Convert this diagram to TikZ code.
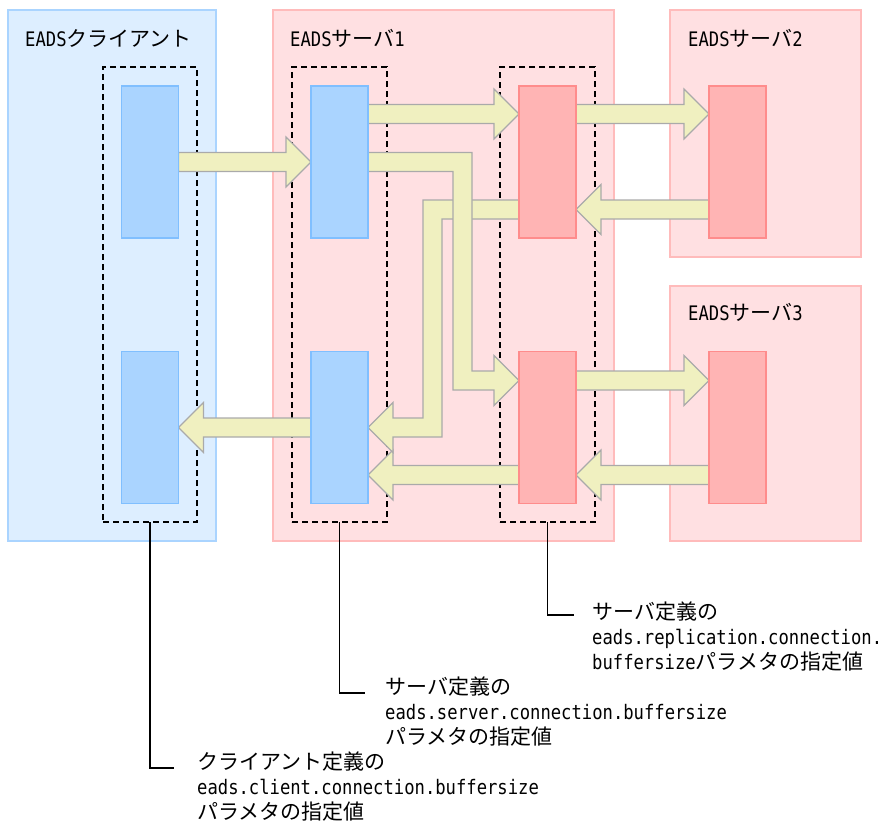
\documentclass[tikz,border=0pt]{standalone}
\usepackage{fontspec}
\setmainfont{Noto Sans CJK JP}
\newfontfamily\monofam[FakeStretch=0.86]{DejaVu Sans Mono}
\usetikzlibrary{calc}
\definecolor{clbg}{HTML}{DDEEFF}
\definecolor{clbd}{HTML}{AAD4FF}
\definecolor{blfill}{HTML}{AAD4FF}
\definecolor{blbd}{HTML}{80BFFF}
\definecolor{svbg}{HTML}{FFE0E2}
\definecolor{svbd}{HTML}{FFBBBB}
\definecolor{rdfill}{HTML}{FFB4B4}
\definecolor{rdbd}{HTML}{FF8C8C}
\definecolor{arfill}{HTML}{F0F0C0}
\definecolor{arbd}{HTML}{AAAAAA}
\newcommand\jpfs{\fontsize{21}{25}\selectfont}
\newcommand\mofs{\monofam\fontsize{20}{25}\selectfont}
\def\shw{9.5pt}
\def\hdw{25pt}
\def\hdl{25pt}
\newcommand\arrR[2]{\draw[fat] let \p1=#1, \p2=#2 in
  (\x1,\y1+\shw) -- (\x2-\hdl,\y1+\shw) -- (\x2-\hdl,\y1+\hdw) -- (\x2,\y1)
  -- (\x2-\hdl,\y1-\hdw) -- (\x2-\hdl,\y1-\shw) -- (\x1,\y1-\shw) -- cycle;}
\newcommand\arrL[2]{\draw[fat] let \p1=#1, \p2=#2 in
  (\x1,\y1+\shw) -- (\x2+\hdl,\y1+\shw) -- (\x2+\hdl,\y1+\hdw) -- (\x2,\y1)
  -- (\x2+\hdl,\y1-\hdw) -- (\x2+\hdl,\y1-\shw) -- (\x1,\y1-\shw) -- cycle;}
\tikzset{
  box/.style={draw, inner sep=0pt, outer sep=0pt, line width=1.2pt},
  clientbox/.style={box, fill=clbg, draw=clbd},
  serverbox/.style={box, fill=svbg, draw=svbd},
  bluebuf/.style={box, fill=blfill, draw=blbd, minimum width=57pt, minimum height=152pt},
  redbuf/.style={box, fill=rdfill, draw=rdbd, minimum width=57pt, minimum height=152pt},
  dashbox/.style={draw=black, inner sep=0pt, outer sep=0pt, line width=1.5pt, dash pattern=on 6pt off 4pt, minimum width=95pt, minimum height=455pt},
  fat/.style={fill=arfill, draw=arbd, line width=1.2pt, line join=miter},
  callout/.style={draw=black, line width=1.5pt},
  title/.style={anchor=west, inner sep=0pt, font=\jpfs},
  note/.style={anchor=west, inner sep=0pt, align=left, font=\jpfs},
}
\begin{document}
\begin{tikzpicture}[x=1pt,y=-1pt]
\useasboundingbox (0,0) rectangle (885,823);
% background boxes
\node[clientbox, minimum width=208pt, minimum height=531pt] (client) at (112,275.5) {};
\node[serverbox, minimum width=341pt, minimum height=531pt] (srv1) at (443.5,275.5) {};
\node[serverbox, minimum width=191pt, minimum height=247pt] (srv2) at (765.5,133.5) {};
\node[serverbox, minimum width=191pt, minimum height=255pt] (srv3) at (765.5,413.5) {};
% titles
\node[title] (tclient) at (25,38) {{\mofs EADS}クライアント};
\node[title] (tsrv1) at (290,38) {{\mofs EADS}サーバ{\mofs 1}};
\node[title] (tsrv2) at (688,38) {{\mofs EADS}サーバ{\mofs 2}};
\node[title] (tsrv3) at (688,312) {{\mofs EADS}サーバ{\mofs 3}};
% dashed groups
\node[dashbox, minimum width=94pt] (dcl) at (150,294.5) {};
\node[dashbox] (d1) at (339.5,294.5) {};
\node[dashbox] (d2) at (547.5,294.5) {};
% buffers (placed first for anchors; redrawn over arrows)
\path
  (150,162) node[bluebuf] (cl1) {}
  (150,427.5) node[bluebuf] (cl2) {}
  (339.5,162) node[bluebuf] (b1) {}
  (339.5,427.5) node[bluebuf] (b2) {}
  (547.5,162) node[redbuf] (r1) {}
  (547.5,427.5) node[redbuf] (r2) {}
  (737.5,162) node[redbuf] (r3) {}
  (737.5,427.5) node[redbuf] (r4) {};
% levels
\coordinate (yA) at (0,114);
\coordinate (yC) at (0,209.5);
\coordinate (yD) at (0,380.5);
\coordinate (yF) at (0,475);
\coordinate (v5) at (432.5,0);
\coordinate (v6) at (462.5,0);
% arrows
\arrR{(cl1.east)}{(b1.west)}
\arrR{(b1.east |- yA)}{(r1.west |- yA)}
\arrR{(r1.east |- yA)}{(r3.west |- yA)}
\arrL{(r3.west |- yC)}{(r1.east |- yC)}
\arrL{(b2.west)}{(cl2.east)}
\arrL{(r2.west |- yF)}{(b2.east |- yF)}
\arrR{(r2.east |- yD)}{(r4.west |- yD)}
\arrL{(r4.west |- yF)}{(r2.east |- yF)}
% elbow: r1 -> b2
\draw[fat] let \p1=(r1.west |- yC), \p2=(v5), \p3=(b2.east) in
  (\x1,\y1+\shw) -- (\x2-\shw,\y1+\shw) -- (\x2-\shw,\y3+\shw) -- (\x3+\hdl,\y3+\shw)
  -- (\x3+\hdl,\y3+\hdw) -- (\x3,\y3) -- (\x3+\hdl,\y3-\hdw) -- (\x3+\hdl,\y3-\shw)
  -- (\x2+\shw,\y3-\shw) -- (\x2+\shw,\y1-\shw) -- (\x1,\y1-\shw) -- cycle;
% elbow: b1 -> r2
\draw[fat] let \p1=(b1.east), \p2=(v6), \p3=(r2.west |- yD) in
  (\x1,\y1+\shw) -- (\x2+\shw,\y1+\shw) -- (\x2+\shw,\y3+\shw) -- (\x3-\hdl,\y3+\shw)
  -- (\x3-\hdl,\y3+\hdw) -- (\x3,\y3) -- (\x3-\hdl,\y3-\hdw) -- (\x3-\hdl,\y3-\shw)
  -- (\x2-\shw,\y3-\shw) -- (\x2-\shw,\y1-\shw) -- (\x1,\y1-\shw) -- cycle;
% buffers on top of arrow ends
\path
  (150,162) node[bluebuf] {}
  (150,427.5) node[bluebuf] {}
  (339.5,162) node[bluebuf] {}
  (339.5,427.5) node[bluebuf] {}
  (547.5,162) node[redbuf] {}
  (547.5,427.5) node[redbuf] {}
  (737.5,162) node[redbuf] {}
  (737.5,427.5) node[redbuf] {};
% notes
\node[note] (t2r) at (592,637) {サーバ定義の\\{\mofs eads.replication.connection.}\\{\mofs buffersize}パラメタの指定値};
\node[note] (t1s) at (385,712) {サーバ定義の\\{\mofs eads.server.connection.buffersize}\\パラメタの指定値};
\node[note] (tcl) at (197,787) {クライアント定義の\\{\mofs eads.client.connection.buffersize}\\パラメタの指定値};
\coordinate (h2) at (574,615);
\coordinate (h1) at (365,693);
\coordinate (hc) at (174,768);
\draw[callout] (d2.south) |- (h2);
\draw[callout] (d1.south) |- (h1);
\draw[callout] (dcl.south) |- (hc);
\end{tikzpicture}
\end{document}
